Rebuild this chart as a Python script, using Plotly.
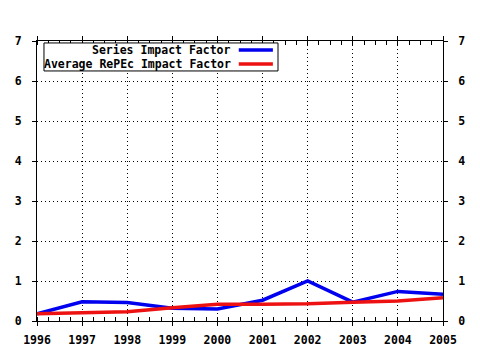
import plotly.graph_objects as go

years = [1996, 1997, 1998, 1999, 2000, 2001, 2002, 2003, 2004, 2005]
series_if = [0.18, 0.48, 0.46, 0.32, 0.30, 0.52, 1.00, 0.47, 0.74, 0.67]
average_if = [0.18, 0.20, 0.23, 0.33, 0.42, 0.42, 0.43, 0.47, 0.50, 0.58]
names = ["Series Impact Factor", "Average RePEc Impact Factor"]
colors = ["#0000ee", "#ee1111"]

FONT = dict(family="DejaVu Sans Mono", size=11.5, color="black")

fig = go.Figure()
for vals, nm, col in zip([series_if, average_if], names, colors):
    fig.add_trace(go.Scatter(x=years, y=vals, name=nm, mode="lines",
                             line=dict(color=col, width=3.5), showlegend=False))
# invisible trace for right axis
fig.add_trace(go.Scatter(x=years, y=series_if, yaxis="y2", mode="lines",
                         line=dict(width=0), hoverinfo="skip", showlegend=False))

axis_common = dict(showline=True, linecolor="black", linewidth=1, ticks="outside",
                   ticklen=4, tickcolor="black", zeroline=False,
                   tickfont=FONT, automargin=False)

fig.update_layout(
    width=480, height=350,
    margin=dict(l=37, r=37, t=41, b=29),
    paper_bgcolor="white", plot_bgcolor="white",
    font=FONT,
    xaxis=dict(range=[1996, 2005], mirror="allticks",
               showgrid=True, gridcolor="black", griddash="1px,3px", gridwidth=1,
               tickvals=years, ticktext=[f"<b>{y}</b>" for y in years],
               ticklabelstandoff=4,
               minor=dict(dtick=0.25, tick0=1996, ticks="inside", ticklen=3,
                          tickcolor="black", showgrid=False),
               **axis_common),
    yaxis=dict(range=[0, 7], tickvals=list(range(8)),
               ticktext=[f"<b>{i}</b>" for i in range(8)], mirror=True,
               showgrid=True, gridcolor="black", griddash="1px,3px", gridwidth=1,
               ticklabelstandoff=8,
               **axis_common),
    yaxis2=dict(range=[0, 7], tickvals=list(range(8)),
                ticktext=[f"<b>{i}</b>" for i in range(8)], overlaying="y",
                side="right", showgrid=False, ticklabelstandoff=8,
                **axis_common),
)

# legend box (drawn manually to match the right-aligned label style)
fig.add_shape(type="rect", xref="paper", yref="paper", x0=0.0172, x1=0.5936,
              y0=0.893, y1=0.993, line=dict(color="black", width=1),
              fillcolor="white", layer="above")
for i, (nm, col) in enumerate(zip(names, colors)):
    yy = 0.968 - i * 0.05
    fig.add_annotation(xref="paper", yref="paper", x=0.482, y=yy, xanchor="right",
                       yanchor="middle", text=f"<b>{nm}</b>", showarrow=False,
                       font=FONT)
    fig.add_shape(type="line", xref="paper", yref="paper", x0=0.497, x1=0.581,
                  y0=yy, y1=yy, line=dict(color=col, width=3.5), layer="above")

fig.write_html("out.html")
